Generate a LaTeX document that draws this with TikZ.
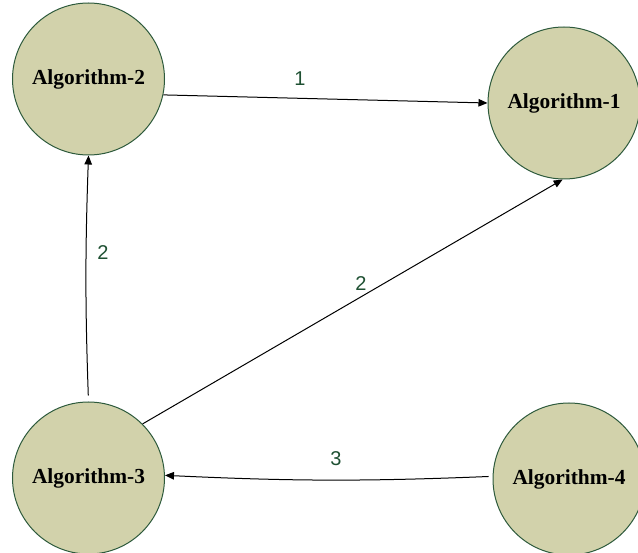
\documentclass[tikz,border=0pt]{standalone}
\usepackage{fontspec}
\setmainfont{Liberation Serif}
\newfontfamily\lblfont{Liberation Sans}
\usetikzlibrary{arrows.meta}
\definecolor{algfill}{RGB}{210,210,171}
\definecolor{algline}{RGB}{45,90,60}
\definecolor{lblcol}{RGB}{30,80,50}
\tikzset{
  algnode/.style={circle, draw=algline, fill=algfill, line width=1pt,
    minimum size=152pt, inner sep=0pt,
    font=\fontsize{21.4}{24}\selectfont\bfseries, text=black},
  flow/.style={draw=black, line width=1pt,
    -{Triangle[length=9pt,width=7.5pt]}},
  weight/.style={font=\lblfont\fontsize{20}{24}\selectfont, text=lblcol}
}
\begin{document}
\begin{tikzpicture}[x=1pt,y=-1pt]
  \useasboundingbox (0,0) rectangle (638,553);
  % algorithm nodes
  \node[algnode] (a2) at (88.5,79)  {Algorithm-2};
  \node[algnode] (a1) at (564,103)  {Algorithm-1};
  \node[algnode] (a3) at (88.5,478) {Algorithm-3};
  \node[algnode] (a4) at (569,479)  {Algorithm-4};
  % weighted connections
  \draw[flow] (a2.-12) -- (a1.180);
  \draw[flow, shorten <=6pt] (a3.north) to[bend left=2] (a2.south);
  \draw[flow] (a3.45) -- (a1.-91);
  \draw[flow, shorten <=4pt] (a4.178) to[bend left=2.5] (a3.2);
  % weights
  \node[weight] (w1) at (300,79)  {1};
  \node[weight] (w2) at (103,253) {2};
  \node[weight] (w3) at (361,284) {2};
  \node[weight] (w4) at (336,459) {3};
\end{tikzpicture}
\end{document}
